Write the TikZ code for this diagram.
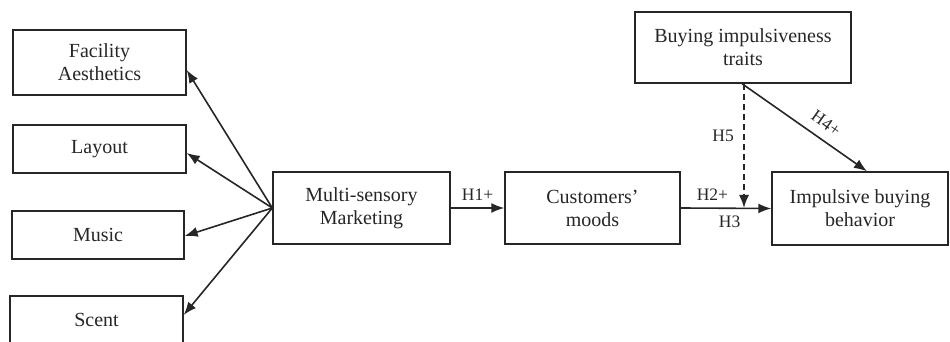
\documentclass[tikz,border=0pt]{standalone}
\usepackage{fontspec}
\setmainfont{Liberation Serif}
\usetikzlibrary{arrows.meta,calc}
\definecolor{ink}{gray}{0.15}
\begin{document}
\begin{tikzpicture}[x=1pt,y=1pt,
  box/.style={draw=ink, line width=1.4pt, align=center, inner sep=0pt,
    font=\fontsize{20}{23}\selectfont, text=ink},
  arr/.style={draw=ink, line width=1.6pt, -{Latex[length=13pt,width=10pt]}},
  lab/.style={font=\fontsize{17.5}{20}\selectfont, text=ink}]
\useasboundingbox (0,0) rectangle (950,342);
\clip (0,0) rectangle (950,342);
% boxes (y = 342 - image y)
\node[box, minimum width=173pt, minimum height=65pt] (fac) at (99.5,279.5) {Facility\\Aesthetics};
\node[box, minimum width=173pt, minimum height=48pt] (lay) at (99.5,193) {Layout};
\node[box, minimum width=172pt, minimum height=48pt] (mus) at (98,107) {Music};
\node[box, minimum width=173pt, minimum height=48pt] (sce) at (96.5,22) {Scent};
\node[box, minimum width=177pt, minimum height=72pt] (msm) at (361.5,134) {Multi-sensory\\Marketing};
\node[box, minimum width=175pt, minimum height=72pt] (cm) at (592.5,134) {Customers'\\moods};
\node[box, minimum width=176pt, minimum height=73pt] (ibb) at (860,133.5) {Impulsive buying\\behavior};
\node[box, minimum width=216pt, minimum height=71pt] (bit) at (743,294.5) {Buying impulsiveness\\traits};
% fan arrows
\draw[arr] (msm.west) -- ([yshift=-7.5pt]fac.east);
\draw[arr] (msm.west) -- ([yshift=-4pt]lay.east);
\draw[arr] (msm.west) -- ([yshift=-1pt]mus.east);
\draw[arr] (msm.west) -- ([yshift=5pt]sce.east);
% main path
\draw[arr] (msm.east) -- node[lab, above=3pt] {H1+} (cm.west);
\draw[arr] (cm.east) -- node[lab, pos=0.35, above=4pt] {H2+} node[lab, pos=0.54, below=4pt] {H3} (ibb.west);
\coordinate (j) at ([xshift=1pt]bit.south |- cm.east);
\draw[arr, dashed, dash pattern=on 6pt off 4pt] ([xshift=1pt]bit.south) -- node[lab, pos=0.42, left=6pt] {H5} (j);
\draw[arr] ([xshift=-1pt]bit.south) -- node[lab, pos=0.6, above=6pt, sloped] {H4+} ([xshift=7pt]ibb.north);
\end{tikzpicture}
\end{document}
